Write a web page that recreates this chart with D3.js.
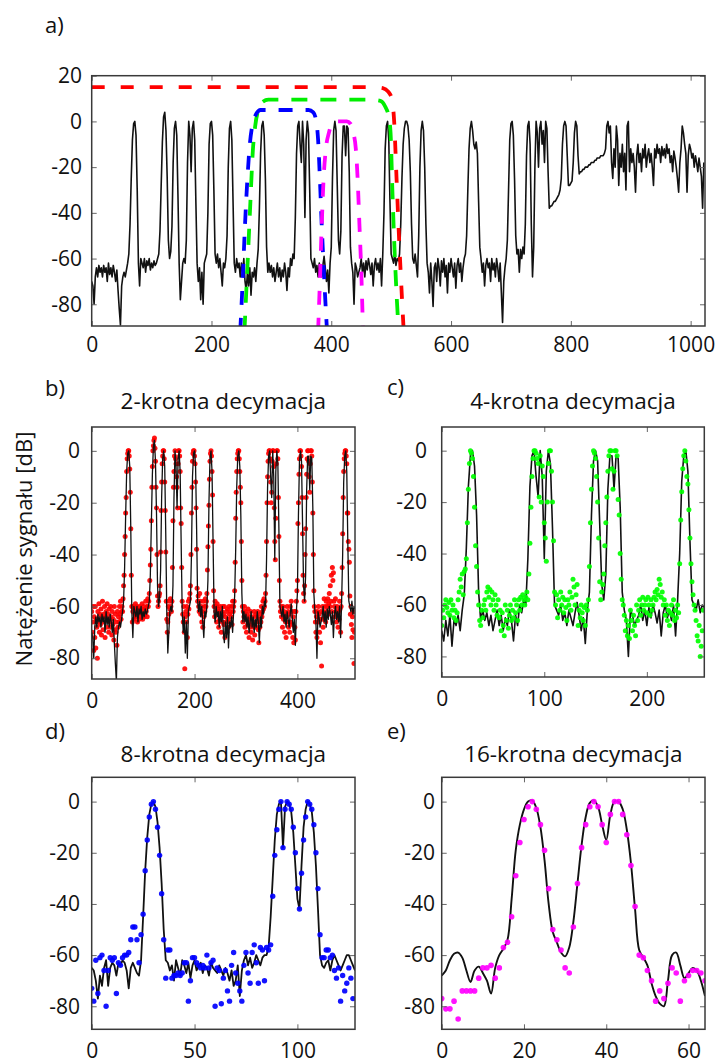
<!DOCTYPE html>
<html><head><meta charset="utf-8">
<script src="https://cdn.jsdelivr.net/npm/d3@7"></script>
<style>
body{margin:0;background:#fff}
svg{display:block}
text{font-family:"Open Sans",sans-serif;fill:#111}
</style>
</head><body>
<svg id="chart" width="719" height="1063"></svg>
<script>
// ---------- DATA ----------
// a) full spectrum, sample spacing 2 (x = 0,2,...,1022)
const aLine = [
-70,-72,-80,-68,-64,-68,-63,-66,-64,-68,-63,-66,-64,-70,-62,-67,-64,-68,-63,-66,-70,-65,-74,-82,-89,
-72,-68,-66,-68,-65,-62,-58,-45,-25,-8,-1,0,-6,-30,-62,-72,-60,-62,-64,-60,-66,-61,-63,-60,-65,
-62,-64,-61,-63,-62,-60,-58,-48,-28,-9,2,4,-4,-24,-52,-60,-57,-46,-18,-3,0,-6,-32,-62,-78,
-70,-62,-60,-62,-52,-18,0,-6,-22,-3,0,-8,-36,-62,-70,-64,-78,-66,-80,-62,-60,-58,-40,-10,-1,
0,-6,-30,-58,-62,-58,-64,-60,-66,-72,-62,-64,-60,-50,-20,-3,0,-8,-35,-62,-66,-60,-64,-62,-68,
-62,-66,-60,-70,-74,-66,-72,-64,-76,-66,-68,-64,-70,-62,-56,-38,-14,-2,0,-6,-25,-55,-66,-62,-66,
-63,-68,-64,-70,-66,-62,-68,-64,-70,-65,-68,-62,-66,-74,-64,-68,-60,-63,-58,-60,-42,-14,-2,0,-10,
-18,0,-10,-42,-8,0,-5,-30,-60,-62,-64,-60,-66,-63,-68,-62,-65,-68,-63,-59,-64,-70,-65,-75,-62,
-55,-25,-4,0,-4,-28,-52,-58,-48,-15,-2,-2,-15,-2,-3,-22,-55,-62,-66,-80,-62,-64,-68,-66,-64,
-60,-66,-62,-68,-61,-65,-60,-63,-67,-62,-72,-63,-60,-65,-62,-66,-60,-72,-58,-40,-12,-2,0,-8,-35,
-58,-60,-62,-58,-63,-60,-61,-58,-45,-25,-10,-3,0,0,-2,-8,-22,-45,-60,-62,-58,-63,-68,-50,-20,
-4,0,-4,-20,-45,-62,-66,-75,-62,-70,-81,-64,-62,-70,-60,-64,-72,-61,-66,-60,-68,-63,-75,-62,-66,
-60,-64,-68,-62,-73,-63,-60,-66,-62,-70,-64,-60,-58,-50,-30,-12,-3,0,-4,-10,-12,-9,-14,-35,-55,
-60,-66,-62,-72,-63,-60,-64,-62,-70,-60,-65,-62,-68,-60,-64,-70,-62,-75,-88,-70,-64,-60,-52,-30,-8,
-1,0,-6,-25,-50,-58,-56,-66,-56,-60,-55,-58,-45,-15,-2,0,-10,-45,-68,-55,-20,0,-5,-20,-3,
0,-10,-4,-18,0,-3,-22,-38,-37,-37,-36,-35,-35,-34,-33,-32,-30,-25,-10,-2,0,-2,-15,-28,-28,
-27,-26,-18,-5,0,-2,-15,-23,-22,-22,-21,-21,-20,-20,-20,-19,-19,-18,-18,-18,-17,-17,-16,-16,-16,
-15,-15,-15,-14,-12,-2,0,-5,-2,-18,-25,-12,-20,-2,-8,-28,-14,-20,-10,-22,-14,-30,-2,0,-22,
-12,-18,-14,-20,-31,-15,-10,-18,-14,-22,-12,-16,-10,-20,-15,-12,-18,-14,-20,-28,-12,-16,-10,-14,-12,
-18,-11,-15,-12,-16,-10,-14,-12,-18,-15,-22,-13,-16,-20,-25,-31,-18,-12,-2,-5,-10,-14,-31,-15,-10,
-12,-16,-14,-20,-15,-18,-22,-16,-20,-24,-38,-18
];
const aStep = 2;

// filter responses in a) as [x, dB]
const redFilter = [[0,15],[470,15],[486,14.6],[495,13],[501,10],[505,0],[509,-25],[513,-50],[517,-72],[521,-92]];
const greenFilter = [[255,-92],[258,-75],[261,-58],[265,-35],[269,-13],[273,-2],[278,5],[285,8.5],[295,9.5],[465,9.5],[482,9],[490,6.5],[496,2],[499,-5],[502,-30],[505,-52],[508,-70],[511,-85],[513,-92]];
const blueFilter = [[248,-92],[252,-70],[256,-45],[260,-25],[264,-10],[268,-2],[274,3],[282,5],[362,5],[370,4],[375,0],[378,-8],[381,-25],[384,-45],[387,-62],[390,-78],[393,-92]];
const magentaFilter = [[378,-92],[381,-70],[384,-46],[387,-26],[391,-12],[396,-5],[401,-1],[407,0],[426,0],[432,-1],[437,-5],[441,-12],[444,-25],[447,-45],[450,-65],[453,-92]];

// b) 2x decimation samples (x = 0..511)
const bDots = [
-62,-70,-66,-60,-77,-64,-72,-60,-76,-65,-68,-80,-62,-66,-59,-70,-63,-67,-61,-71,-64,-58,-69,-63,-66,-60,-72,-64,-62,-68,-59,-65,
-63,-70,-61,-66,-68,-60,-64,-71,-62,-67,-65,-73,-60,-69,-63,-70,-66,-75,-62,-68,-64,-66,-60,-63,-58,-65,-62,-60,-62,-57,-52,-48,
-40,-33,-24,-18,-8,-3,-1,0,0,-2,-7,-16,-30,-48,-60,-66,-62,-60,-65,-61,-63,-59,-64,-62,-60,-66,-63,-61,-65,-60,-62,-64,
-61,-63,-59,-65,-62,-60,-64,-61,-63,-58,-62,-60,-64,-57,-60,-58,-55,-50,-44,-38,-27,-14,-6,0,2,4,5,1,-4,-14,-22,-40,
-56,-60,-58,-56,-55,-52,-39,-23,-12,-5,-2,0,0,-3,-12,-23,-39,-58,-65,-70,-66,-60,-63,-58,-61,-57,-60,-62,-58,-45,-27,-14,
-8,-2,0,-3,-5,-10,-14,-22,-5,0,0,-2,-8,-22,-28,-45,-58,-63,-66,-60,-70,-84,-64,-62,-66,-60,-72,-63,-58,-61,-57,-55,
-52,-40,-24,-14,-4,-1,0,0,-2,-5,-12,-22,-38,-53,-58,-56,-60,-62,-55,-58,-63,-60,-66,-62,-68,-58,-64,-60,-62,-57,-60,-58,
-55,-46,-37,-29,-21,-11,-4,-1,0,-2,-8,-17,-35,-54,-60,-64,-58,-62,-60,-66,-59,-63,-61,-68,-62,-65,-60,-64,-70,-62,-66,-60,
-63,-67,-60,-72,-64,-66,-62,-70,-61,-65,-68,-60,-63,-66,-62,-64,-60,-67,-58,-62,-60,-58,-54,-43,-26,-16,-8,-3,-1,0,0,-3,
-8,-14,-20,-35,-50,-60,-66,-62,-64,-60,-68,-62,-65,-70,-63,-67,-61,-66,-72,-64,-68,-62,-70,-65,-67,-73,-64,-68,-62,-71,-66,-63,
-68,-64,-66,-62,-69,-74,-65,-68,-63,-66,-60,-64,-62,-58,-61,-57,-60,-58,-55,-48,-35,-20,-10,-4,-1,0,0,-3,-12,-20,-16,-4,
0,0,-6,-22,-35,-42,-26,-5,0,0,-3,-18,-33,-50,-58,-62,-60,-64,-62,-68,-60,-65,-62,-70,-63,-66,-72,-64,-60,-66,-62,-68,
-63,-70,-60,-66,-58,-62,-67,-72,-64,-74,-62,-68,-73,-62,-58,-54,-50,-28,-20,-9,-3,0,0,-2,-6,-18,-32,-48,-55,-58,-52,-40,
-30,-18,-9,-3,0,0,-4,-10,-16,-5,0,0,-2,-12,-24,-40,-54,-60,-62,-66,-70,-64,-72,-62,-66,-60,-63,-70,-65,-74,-62,-83,
-65,-60,-68,-62,-57,-64,-60,-66,-58,-62,-60,-57,-63,-59,-55,-60,-52,-58,-48,-62,-45,-50,-47,-58,-60,-64,-57,-62,-66,-60,-63,-68,
-62,-65,-58,-61,-70,-60,-55,-45,-32,-18,-8,-3,-1,0,0,-2,-5,-24,-24,-35,-38,-43,-56,-63,-60,-67,-72,-64,-69,-62,-82,-70
];

// c) 4x decimation samples (x = 0..255)
const cDots = [
-68,-62,-65,-60,-58,-61,-63,-59,-64,-58,-62,-60,-65,-62,-66,-63,-58,-55,-50,-53,-48,-56,-47,-46,-42,-28,-15,-5,0,-1,-3,-10,
-22,-37,-45,-55,-60,-66,-68,-62,-65,-60,-58,-62,-55,-53,-57,-54,-60,-55,-58,-62,-56,-60,-64,-58,-65,-62,-70,-63,-68,-72,-60,-66,
-62,-69,-64,-60,-66,-62,-65,-58,-63,-60,-66,-58,-62,-57,-60,-56,-58,-60,-57,-55,-58,-48,-36,-22,-10,-3,0,0,-1,-3,-5,-18,
-2,-20,-6,-10,-28,-34,-43,-20,-5,0,0,-8,-20,-35,-55,-60,-56,-65,-58,-62,-55,-60,-57,-63,-58,-61,-66,-58,-60,-55,-62,-57,
-50,-53,-60,-56,-52,-68,-62,-65,-60,-63,-66,-61,-68,-60,-62,-58,-45,-28,-15,-6,0,-1,-3,-10,-20,-34,-51,-58,-55,-52,-48,-37,
-28,-18,-8,-2,0,0,-7,-15,-8,0,0,-2,-19,-25,-40,-50,-58,-60,-64,-70,-66,-72,-68,-73,-62,-66,-70,-64,-68,-72,-60,-66,
-62,-58,-64,-60,-57,-62,-60,-58,-63,-57,-60,-64,-58,-62,-60,-57,-55,-58,-54,-56,-50,-52,-57,-55,-60,-58,-64,-60,-66,-62,-68,-63,
-60,-64,-58,-66,-62,-65,-60,-63,-44,-27,-16,-7,-2,0,-4,-10,-13,-23,-34,-44,-51,-56,-60,-62,-66,-72,-74,-68,-80,-76,-70,-62
];

// d) 8x decimation: reference line and samples (x = 0..128 / 0..127)
const dLine = [
-65,-66,-70,-77,-68,-72,-65,-62,-72,-65,-63,-64,-68,-63,-64,-62,-63,-66,-73,-65,-63,-65,-67,-68,-62,-45,-27,-14,-5,-1,
0,-2,-8,-18,-32,-50,-62,-63,-66,-64,-70,-62,-65,-68,-62,-64,-67,-63,-69,-64,-62,-66,-64,-63,-67,-64,-65,-68,-63,-65,
-66,-67,-64,-66,-68,-65,-67,-70,-66,-72,-70,-64,-76,-66,-62,-60,-64,-61,-65,-63,-60,-62,-64,-61,-60,-60,-57,-45,-30,-15,
-5,-1,0,-18,-2,0,-1,-4,-12,-25,-38,-42,-25,-10,-3,0,-1,-4,-12,-25,-42,-60,-64,-65,-63,-62,-66,-62,-60,-62,
-64,-66,-64,-62,-60,-60,-62,-64,-66
];
const dDots = [
-73,-78,-62,-75,-61,-60,-66,-80,-66,-61,-62,-61,-75,-63,-64,-61,-60,-60,-59,-54,-49,-49,-54,-63,-52,-44,-27,-15,-6,-1,0,-3,
-10,-21,-36,-54,-69,-58,-58,-69,-68,-68,-67,-68,-67,-63,-63,-78,-70,-61,-61,-63,-64,-65,-64,-65,-60,-65,-63,-62,-80,-65,-66,-79,
-69,-66,-74,-78,-64,-59,-67,-71,-74,-78,-64,-59,-67,-71,-59,-56,-63,-71,-57,-58,-70,-57,-58,-56,-37,-21,-11,-3,0,-18,-3,0,
-1,-3,-10,-20,-34,-42,-28,-15,-6,0,-1,-3,-9,-20,-34,-52,-61,-61,-58,-58,-61,-60,-66,-69,-65,-78,-68,-74,-71,-65,-69,-77
];

// e) 16x decimation: reference line and samples (x = 0..64)
const eLine = [
-68,-66,-62,-59.5,-59,-61,-66,-70.5,-66,-64.5,-67,-70,-75,-65,-60,-57.5,-54,-38,-19,-9,
-3,0,0.5,-2.5,-10,-23,-40,-51,-55,-59,-60.5,-57,-47,-32,-17,-6,-0.5,0.5,-2,-9,
-15,-5,0,0,-3,-11,-24,-42,-58,-61,-64,-71,-76,-79,-80,-70,-60,-59,-64,-69,
-67,-65,-66,-70,-76
];
const eDots = [
-77,-81,-81,-78,-85,-74,-74,-74,-74,-69,-65,-65,-64,-69,-65,-57,-55,-45,-29,-16,
-7,-2,0,-3,-9,-19,-34,-50,-54,-58,-65,-67,-49,-32,-18,-9,-2,0,-2,-9,
-16,-5,0,0,-5,-13,-25,-41,-60,-61,-66,-70,-78,-74,-77,-71,-65,-67,-78,-70,
-68,-66,-66,-67,-70
];

// axes ticks
const aXTicks = [0,200,400,600,800,1000];
const aYTicks = [20,0,-20,-40,-60,-80];
const smallYTicks = [0,-20,-40,-60,-80];
const bXTicks = [0,200,400];
const cXTicks = [0,100,200];
const dXTicks = [0,50,100];
const eXTicks = [0,20,40,60];

// ---------- DRAWING ----------
const svg = d3.select("#chart");
const defs = svg.append("defs");
const FONT = '"Open Sans", sans-serif';
const fmt = d => String(d);

function panel(cfg){
  const x = d3.scaleLinear().domain(cfg.xDom).range([cfg.x0, cfg.x1]);
  const y = d3.scaleLinear().domain(cfg.yDom).range([cfg.y1, cfg.y0]);
  defs.append("clipPath").attr("id","clip-"+cfg.id)
    .append("rect").attr("x",cfg.x0).attr("y",cfg.y0)
    .attr("width",cfg.x1-cfg.x0).attr("height",cfg.y1-cfg.y0);
  const g = svg.append("g");
  const plot = g.append("g").attr("clip-path","url(#clip-"+cfg.id+")");
  const axG = g.append("g");
  function ax(axis, tr){
    const a = axG.append("g").attr("transform",tr).call(axis)
      .attr("font-size",cfg.fs||21).attr("font-family",FONT).attr("color","#111");
    a.select(".domain").remove();
    a.selectAll(".tick line").attr("stroke","#666").attr("stroke-width",1);
    return a;
  }
  ax(d3.axisBottom(x).tickValues(cfg.xTicks).tickSize(-5).tickPadding(cfg.xPad).tickFormat(fmt), `translate(0,${cfg.y1})`);
  ax(d3.axisTop(x).tickValues(cfg.xTicks).tickSize(-5).tickFormat(""), `translate(0,${cfg.y0})`);
  ax(d3.axisLeft(y).tickValues(cfg.yTicks).tickSize(-5).tickPadding(cfg.yPad).tickFormat(fmt), `translate(${cfg.x0},0)`);
  ax(d3.axisRight(y).tickValues(cfg.yTicks).tickSize(-5).tickFormat(""), `translate(${cfg.x1},0)`);
  g.append("rect").attr("x",cfg.x0).attr("y",cfg.y0)
    .attr("width",cfg.x1-cfg.x0).attr("height",cfg.y1-cfg.y0)
    .attr("fill","none").attr("stroke","#3a3a3a").attr("stroke-width",1.5);
  return {x,y,plot,g};
}

function drawLine(p, data, step, offset, width, curve){
  const gen = d3.line().x((d,i)=>p.x(i*step+offset)).y(d=>p.y(d));
  if(curve) gen.curve(curve);
  p.plot.append("path").datum(data).attr("d",gen)
    .attr("fill","none").attr("stroke","#111").attr("stroke-width",width)
    .attr("stroke-linejoin","round");
}
function drawDots(p, data, color, r){
  p.plot.append("g").selectAll("circle").data(data).join("circle")
    .attr("cx",(d,i)=>p.x(i)).attr("cy",d=>p.y(d)).attr("r",r)
    .attr("fill",color).attr("fill-opacity",0.92);
}
function drawFilter(p, pts, color, dash){
  const gen = d3.line().x(d=>p.x(d[0])).y(d=>p.y(d[1])).curve(d3.curveMonotoneX);
  p.plot.append("path").datum(pts).attr("d",gen).attr("fill","none")
    .attr("stroke",color).attr("stroke-width",3.8).attr("stroke-dasharray",dash);
}

// a)
const pa = panel({id:"a", x0:91.7, x1:705, y0:75.7, y1:326, xDom:[0,1024], yDom:[-89.5,20],
  xTicks:aXTicks, yTicks:aYTicks, xPad:11, yPad:9.7});
drawLine(pa, aLine, aStep, 0, 1.6);
drawFilter(pa, redFilter, "#ff0000", "13,16");
drawFilter(pa, greenFilter, "#00ee00", "16,13");
drawFilter(pa, blueFilter, "#0000ff", "14,13");
drawFilter(pa, magentaFilter, "#ff00ff", "14,13");

// b)
const pb = panel({id:"b", x0:91.7, x1:355, y0:427, y1:679, xDom:[0,512], yDom:[-88,9.2],
  xTicks:bXTicks, yTicks:smallYTicks, xPad:14, yPad:11.7});
drawDots(pb, bDots, "#ff0000", 2.5);
drawLine(pb, aLine.slice(0,257), aStep, 0, 1.3);

// c)
const pc = panel({id:"c", x0:441.7, x1:704.3, y0:427, y1:677, xDom:[0,256], yDom:[-88,9.2],
  xTicks:cXTicks, yTicks:smallYTicks, xPad:14, yPad:14.7});
drawLine(pc, aLine.slice(128,257), aStep, 0, 1.6);
drawDots(pc, cDots, "#00ff00", 2.5);

// d)
const pd = panel({id:"d", x0:91.7, x1:355, y0:777.3, y1:1029.3, xDom:[0,128], yDom:[-89,9.5],
  xTicks:dXTicks, yTicks:smallYTicks, xPad:14, yPad:11.7});
drawLine(pd, dLine, 1, 0, 1.8);
drawDots(pd, dDots, "#0000ff", 2.7);

// e)
const pe = panel({id:"e", x0:441.7, x1:705, y0:777.3, y1:1029.3, xDom:[0,64], yDom:[-89,9.5],
  xTicks:eXTicks, yTicks:smallYTicks, xPad:14, yPad:6.7});
drawLine(pe, eLine, 1, 0, 1.9, d3.curveCatmullRom);
drawDots(pe, eDots, "#ff00ff", 2.8);

// labels
const labels = [
  {t:"a)", x:45, y:33}, {t:"b)", x:45, y:396}, {t:"c)", x:387, y:395},
  {t:"d)", x:45, y:739}, {t:"e)", x:387, y:739}
];
svg.append("g").selectAll("text").data(labels).join("text")
  .attr("x",d=>d.x).attr("y",d=>d.y).attr("font-size",22).text(d=>d.t);

const titles = [
  {t:"2-krotna decymacja", p:pb, y:409},
  {t:"4-krotna decymacja", p:pc, y:409},
  {t:"8-krotna decymacja", p:pd, y:762},
  {t:"16-krotna decymacja", p:pe, y:762}
];
svg.append("g").selectAll("text").data(titles).join("text")
  .attr("x",d=>(d.p.x.range()[0]+d.p.x.range()[1])/2).attr("y",d=>d.y)
  .attr("text-anchor","middle").attr("font-size",22.5).text(d=>d.t);

svg.append("text").attr("transform","translate(32,549) rotate(-90)")
  .attr("text-anchor","middle").attr("font-size",22).text("Natężenie sygnału [dB]");
</script>
</body></html>
